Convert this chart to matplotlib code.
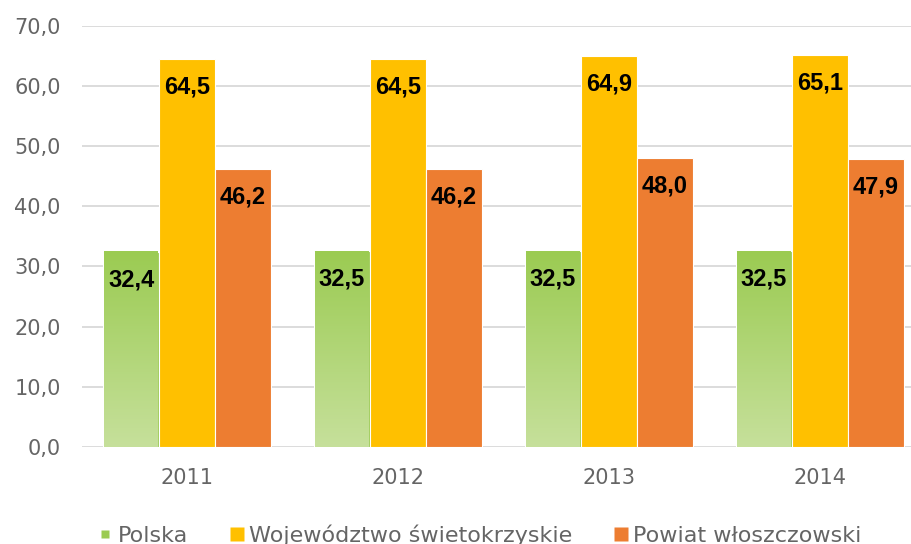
import numpy as np
import matplotlib.pyplot as plt
from matplotlib.lines import Line2D

years = ['2011', '2012', '2013', '2014']
polska = [32.4, 32.5, 32.5, 32.5]
swietokrzyskie = [64.5, 64.5, 64.9, 65.1]
wloszczowski = [46.2, 46.2, 48.0, 47.9]
series_names = ['Polska', 'Województwo świetokrzyskie', 'Powiat włoszczowski']

GRAY = '#656565'
YELLOW = '#FFC000'
ORANGE = '#ED7D31'
GREEN_TOP = np.array([0x9B, 0xCB, 0x52]) / 255
GREEN_BOT = np.array([0xC6, 0xE0, 0x9B]) / 255

fig = plt.figure(figsize=(9.11, 5.44), dpi=100)
ax = fig.add_axes([0.0895, 0.178, 0.926, 0.775])

x = np.arange(len(years))
w = 0.265

b_pl = ax.bar(x - w, polska, w, color=GREEN_TOP, edgecolor='white', linewidth=0.8, zorder=2)
b_sw = ax.bar(x, swietokrzyskie, w, color=YELLOW, edgecolor='white', linewidth=0.8, zorder=2)
b_wl = ax.bar(x + w, wloszczowski, w, color=ORANGE, edgecolor='white', linewidth=0.8, zorder=2)

# gradient fill for the green bars
grad = np.linspace(0, 1, 256)[:, None, None]
img = GREEN_TOP * (1 - grad) + GREEN_BOT * grad
for b in b_pl:
    x0, h, bw = b.get_x(), b.get_height(), b.get_width()
    ax.imshow(img, extent=[x0 + 0.006, x0 + bw - 0.006, 0, h], aspect='auto', zorder=3)

for bars, vals in [(b_pl, polska), (b_sw, swietokrzyskie), (b_wl, wloszczowski)]:
    for b, v in zip(bars, vals):
        ax.annotate(f'{v:.1f}'.replace('.', ','),
                    (b.get_x() + b.get_width() / 2, v),
                    xytext=(0, -28), textcoords='offset pixels',
                    ha='center', va='center', fontsize=17, fontweight='bold',
                    family='Liberation Sans', color='black', zorder=4)

ax.set_xlim(-0.5, len(years) - 0.5)
ax.set_ylim(0, 70)
ax.set_yticks(np.arange(0, 71, 10))
ax.set_yticklabels([f'{v:.1f}'.replace('.', ',') for v in np.arange(0, 71, 10)])
ax.set_xticks(x)
ax.set_xticklabels(years)
ax.grid(axis='y', color='#D9D9D9', linewidth=1.3, zorder=0)
ax.set_axisbelow(True)
for s in ax.spines.values():
    s.set_visible(False)
ax.tick_params(length=0, colors=GRAY, labelsize=15)
ax.tick_params(axis='x', pad=15)
ax.tick_params(axis='y', pad=15)
for lab in ax.get_xticklabels() + ax.get_yticklabels():
    lab.set_family('DejaVu Sans')

handles = [
    Line2D([], [], marker='s', ls='none', markersize=5.8, markerfacecolor=GREEN_TOP, markeredgecolor='none'),
    Line2D([], [], marker='s', ls='none', markersize=10, markerfacecolor=YELLOW, markeredgecolor='none'),
    Line2D([], [], marker='s', ls='none', markersize=10, markerfacecolor=ORANGE, markeredgecolor='none'),
]
leg = fig.legend(handles, series_names, loc='lower center', bbox_to_anchor=(0.527, -0.04),
                 ncol=3, frameon=False, handlelength=0.6, handletextpad=0.25, columnspacing=1.9,
                 prop={'family': 'DejaVu Sans', 'size': 16})
for t in leg.get_texts():
    t.set_color(GRAY)

fig.savefig('out.png', dpi=100)
